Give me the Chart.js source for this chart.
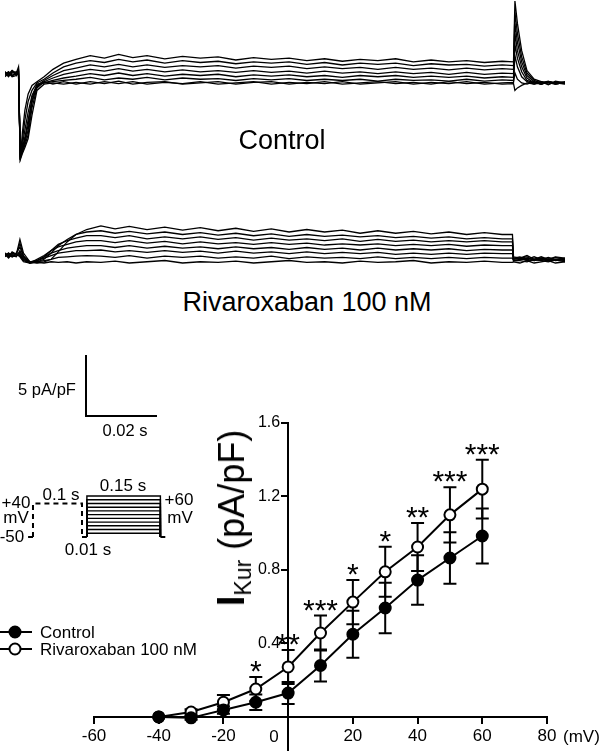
<!DOCTYPE html>
<html>
<head>
<meta charset="utf-8">
<script src="https://cdn.jsdelivr.net/npm/chart.js@4.4.1/dist/chart.umd.min.js"></script>
<style>
  html, body { margin: 0; padding: 0; background: #fff; }
  body { width: 600px; height: 752px; position: relative; overflow: hidden;
         font-family: "Liberation Sans", Arial, sans-serif; color: #000; }
  canvas { position: absolute; }
  .t { position: absolute; line-height: 1; white-space: nowrap; transform: translate(-50%, -50%); }
  .l { transform: translate(0, -50%); }
  .bar { position: absolute; background: #000; }
</style>
</head>
<body>

<canvas id="traceControl" width="560" height="170" style="left:5px;top:0px"></canvas>
<canvas id="traceRiva" width="560" height="80" style="left:5px;top:200px"></canvas>
<canvas id="protocol" width="160" height="52" style="left:20px;top:490px"></canvas>
<canvas id="iv" width="600" height="370" style="left:0px;top:400px"></canvas>

<div class="t" style="left:282px;top:140px;font-size:27px">Control</div>
<div class="t" style="left:307px;top:302px;font-size:27px">Rivaroxaban 100 nM</div>

<!-- scale bar -->
<div class="bar" style="left:85px;top:355px;width:2px;height:62px"></div>
<div class="bar" style="left:85px;top:415px;width:72px;height:2px"></div>
<div class="t" style="left:47px;top:389px;font-size:16.5px">5 pA/pF</div>
<div class="t" style="left:125px;top:430px;font-size:16.5px">0.02 s</div>

<!-- protocol labels -->
<div class="t" style="left:16px;top:502px;font-size:17px">+40</div>
<div class="t" style="left:16px;top:517px;font-size:17px">mV</div>
<div class="t" style="left:12px;top:536px;font-size:17px">-50</div>
<div class="t" style="left:61px;top:494px;font-size:17px">0.1 s</div>
<div class="t" style="left:123px;top:485px;font-size:17px">0.15 s</div>
<div class="t" style="left:179px;top:499px;font-size:17px">+60</div>
<div class="t" style="left:180px;top:517px;font-size:17px">mV</div>
<div class="t" style="left:88px;top:549px;font-size:17px">0.01 s</div>

<!-- IV plot texts -->
<div class="t" style="left:231px;top:518px;font-size:36px;transform:translate(-50%,-50%) rotate(-90deg)"><b style="font-size:38px">I</b><span style="font-size:23px;position:relative;top:7px">Kur</span> (pA/pF)</div>
<div class="t" style="left:274px;top:736px;font-size:17px">0</div>
<div class="t l" style="left:563px;top:736px;font-size:17px">(mV)</div>
<div class="t l" style="left:40px;top:632px;font-size:17px">Control</div>
<div class="t l" style="left:40px;top:649px;font-size:17px">Rivaroxaban 100 nM</div>

<script>
// ---- I-V data (mV, pA/pF) ----
const voltages = [-40, -30, -20, -10, 0, 10, 20, 30, 40, 50, 60];
const controlMean = [0, -0.005, 0.038, 0.08, 0.13, 0.28, 0.45, 0.593, 0.745, 0.865, 0.985];
const controlErr = [0, 0.01, 0.02, 0.042, 0.06, 0.087, 0.128, 0.137, 0.135, 0.14, 0.15];
const rivaMean = [0, 0.027, 0.08, 0.152, 0.272, 0.457, 0.625, 0.79, 0.925, 1.10, 1.24];
const rivaErr = [0, 0.015, 0.04, 0.066, 0.093, 0.095, 0.12, 0.136, 0.13, 0.15, 0.16];
const starLabels = ['', '', '', '*', '**', '***', '*', '*', '**', '***', '***'];
const xTicks = [-60, -40, -20, 0, 20, 40, 60, 80];
const yTicks = [0.4, 0.8, 1.2, 1.6];

// ---- current traces (time in ms, current in pA/pF) ----
const tControl = [0, 1, 2, 3.2, 3.8, 4.3, 4.9, 5.6, 6.5, 7.6, 9, 11, 13.5, 16.5,
  20, 24, 28, 32, 36, 40, 45, 50, 55, 60, 65, 70, 75, 80, 85, 90, 95, 100, 105, 110, 115, 120, 125, 130, 135, 140,
  143.2, 143.6, 144.3, 145.5, 147, 149, 151, 153, 155, 157.7];
const control1 = [0.9, 0.6, 1.0, 0.8, 1.3, -6.2, -4.0, -2.2, -0.9, -0.2, 0.1, 0.5, 1.1, 1.6,
  1.9, 2.2, 2.0, 2.3, 2.05, 2.2, 1.95, 2.15, 2.0, 2.1, 1.85, 2.05, 1.9, 2.0, 1.8, 1.95, 1.75, 1.9, 1.8, 1.95, 1.7, 1.85, 1.7, 1.8, 1.65, 1.75,
  1.7, 6.6, 4.8, 2.6, 1.0, 0.3, 0.1, -0.15, 0.15, 0.0];
const control2 = [0.7, 0.9, 0.6, 0.7, 1.1, -6.0, -4.6, -3.0, -1.5, -0.6, 0.0, 0.3, 0.8, 1.3,
  1.6, 1.8, 1.65, 1.9, 1.7, 1.85, 1.6, 1.8, 1.65, 1.75, 1.55, 1.7, 1.6, 1.7, 1.5, 1.65, 1.45, 1.6, 1.5, 1.6, 1.4, 1.55, 1.45, 1.5, 1.35, 1.45,
  1.4, 5.7, 4.0, 2.1, 0.8, 0.2, 0.0, 0.15, -0.1, 0.05];
const control3 = [0.5, 0.8, 0.6, 0.8, 1.0, -5.8, -5.0, -3.8, -2.4, -1.0, -0.2, 0.2, 0.6, 1.0,
  1.2, 1.45, 1.3, 1.5, 1.3, 1.45, 1.25, 1.4, 1.3, 1.4, 1.2, 1.35, 1.25, 1.35, 1.15, 1.3, 1.15, 1.25, 1.1, 1.25, 1.1, 1.2, 1.05, 1.2, 1.05, 1.15,
  1.1, 4.8, 3.3, 1.7, 0.6, 0.1, -0.1, 0.1, 0.0, 0.1];
const control4 = [0.8, 0.5, 0.9, 0.7, 0.9, -5.6, -5.2, -4.4, -3.0, -1.4, -0.3, 0.1, 0.4, 0.7,
  0.9, 1.1, 0.95, 1.15, 0.95, 1.1, 0.9, 1.05, 0.9, 1.0, 0.85, 1.0, 0.85, 0.95, 0.8, 0.95, 0.8, 0.9, 0.75, 0.9, 0.75, 0.85, 0.7, 0.85, 0.7, 0.8,
  0.75, 4.0, 2.6, 1.3, 0.4, 0.0, 0.1, -0.1, 0.05, 0.0];
const control5 = [0.6, 0.8, 0.5, 0.6, 0.8, -6.1, -5.4, -4.6, -3.4, -1.2, -0.1, 0.0, 0.2, 0.4,
  0.55, 0.75, 0.6, 0.8, 0.6, 0.75, 0.55, 0.7, 0.6, 0.7, 0.5, 0.65, 0.55, 0.65, 0.5, 0.6, 0.45, 0.6, 0.5, 0.6, 0.45, 0.55, 0.45, 0.55, 0.4, 0.5,
  0.45, 3.1, 2.0, 0.9, 0.2, 0.0, -0.1, 0.1, 0.0, -0.05];
const control6 = [0.9, 0.6, 0.8, 0.9, 0.7, -5.9, -5.5, -4.8, -3.8, -1.6, -0.2, 0.0, 0.1, 0.2,
  0.3, 0.45, 0.25, 0.4, 0.3, 0.45, 0.25, 0.4, 0.3, 0.35, 0.2, 0.35, 0.25, 0.35, 0.2, 0.3, 0.2, 0.3, 0.15, 0.3, 0.2, 0.25, 0.15, 0.3, 0.15, 0.25,
  0.2, 2.2, 1.3, 0.5, 0.1, -0.1, 0.0, 0.1, -0.1, 0.05];
const control7 = [0.7, 0.9, 0.6, 0.8, 0.9, -6.2, -5.7, -5.2, -4.5, -2.6, -0.6, -0.1, 0.0, -0.1,
  0.05, -0.1, 0.1, -0.05, 0.1, -0.1, 0.05, -0.05, 0.1, -0.1, 0.0, 0.1, -0.1, 0.05, -0.05, 0.1, -0.1, 0.0, 0.1, -0.05, 0.05, -0.1, 0.1, -0.05, 0.05, -0.1,
  -0.05, -0.6, -0.4, -0.2, 0.0, -0.1, 0.1, 0.0, -0.1, 0.05];
const control8 = [0.8, 0.7, 1.0, 0.6, 1.0, -6.0, -5.6, -5.0, -4.2, -2.0, -0.4, 0.1, -0.1, 0.1,
  -0.1, 0.1, -0.05, 0.15, -0.1, 0.05, 0.1, -0.1, 0.0, 0.1, -0.1, 0.05, 0.1, -0.1, 0.05, -0.05, 0.1, -0.1, 0.0, 0.1, -0.1, 0.05, -0.05, 0.1, -0.1, 0.0,
  0.05, 0.8, 0.3, 0.0, -0.1, 0.1, -0.1, 0.1, 0.0, -0.1];

const tRiva = [0, 1, 2, 3.2, 4.2, 5.2, 7, 9, 11, 13, 15, 17.5, 20, 23,
  27, 31, 35, 40, 45, 50, 55, 60, 65, 70, 75, 80, 85, 90, 95, 100, 105, 110, 115, 120, 125, 130, 135, 140,
  142.9, 143.2, 145, 147, 149, 151, 153, 155, 157.7];
const riva1 = [0.8, 0.5, 0.9, 0.7, 1.9, 0.8, 0.1, 0.0, 0.1, 0.3, 0.9, 1.7, 2.3, 2.7,
  3.0, 2.75, 2.95, 2.7, 2.9, 2.65, 2.85, 2.6, 2.8, 2.55, 2.75, 2.5, 2.7, 2.5, 2.65, 2.4, 2.6, 2.4, 2.55, 2.35, 2.5, 2.3, 2.45, 2.3,
  2.3, 0.5, 0.4, 0.6, 0.3, 0.5, 0.3, 0.5, 0.4];
const riva2 = [0.6, 0.8, 0.5, 0.7, 1.6, 0.6, 0.0, 0.1, 0.3, 0.8, 1.4, 1.9, 2.3, 2.5,
  2.6, 2.4, 2.55, 2.35, 2.5, 2.3, 2.45, 2.25, 2.4, 2.2, 2.35, 2.15, 2.3, 2.15, 2.25, 2.1, 2.2, 2.05, 2.15, 2.0, 2.1, 1.95, 2.05, 1.95,
  1.95, 0.4, 0.5, 0.3, 0.5, 0.3, 0.45, 0.3, 0.4];
const riva3 = [0.7, 0.4, 0.7, 0.8, 1.3, 0.5, 0.1, 0.2, 0.5, 1.0, 1.5, 1.8, 2.0, 2.2,
  2.2, 2.05, 2.2, 1.95, 2.1, 1.95, 2.1, 1.9, 2.05, 1.85, 2.0, 1.85, 1.95, 1.8, 1.95, 1.75, 1.9, 1.75, 1.85, 1.7, 1.8, 1.7, 1.8, 1.7,
  1.7, 0.3, 0.4, 0.5, 0.2, 0.4, 0.25, 0.45, 0.3];
const riva4 = [0.5, 0.7, 0.6, 0.5, 1.0, 0.4, 0.0, 0.3, 0.6, 1.0, 1.3, 1.5, 1.7, 1.8,
  1.8, 1.65, 1.8, 1.6, 1.75, 1.55, 1.7, 1.55, 1.65, 1.5, 1.65, 1.5, 1.6, 1.45, 1.55, 1.45, 1.55, 1.4, 1.5, 1.4, 1.5, 1.35, 1.45, 1.4,
  1.4, 0.4, 0.3, 0.4, 0.3, 0.2, 0.35, 0.2, 0.3];
const riva5 = [0.8, 0.6, 0.8, 0.7, 0.8, 0.3, 0.1, 0.2, 0.5, 0.8, 1.0, 1.2, 1.3, 1.4,
  1.4, 1.25, 1.4, 1.2, 1.35, 1.2, 1.3, 1.15, 1.3, 1.15, 1.25, 1.1, 1.25, 1.1, 1.2, 1.05, 1.2, 1.05, 1.15, 1.05, 1.15, 1.0, 1.1, 1.05,
  1.05, 0.3, 0.4, 0.2, 0.3, 0.4, 0.2, 0.3, 0.2];
const riva6 = [0.6, 0.7, 0.5, 0.6, 0.7, 0.2, 0.0, 0.2, 0.4, 0.6, 0.8, 0.9, 1.0, 1.0,
  1.05, 0.9, 1.0, 0.85, 1.0, 0.85, 0.95, 0.8, 0.95, 0.8, 0.9, 0.75, 0.9, 0.75, 0.85, 0.75, 0.85, 0.7, 0.8, 0.7, 0.8, 0.7, 0.8, 0.75,
  0.75, 0.2, 0.3, 0.3, 0.2, 0.3, 0.15, 0.3, 0.3];
const riva7 = [0.7, 0.5, 0.6, 0.7, 0.6, 0.2, 0.1, 0.1, 0.2, 0.3, 0.45, 0.5, 0.55, 0.6,
  0.55, 0.45, 0.6, 0.4, 0.55, 0.45, 0.55, 0.4, 0.5, 0.4, 0.55, 0.35, 0.5, 0.4, 0.45, 0.35, 0.5, 0.35, 0.45, 0.35, 0.45, 0.35, 0.45, 0.4,
  0.4, 0.2, 0.2, 0.1, 0.3, 0.2, 0.1, 0.25, 0.1];
const riva8 = [0.6, 0.8, 0.6, 0.7, 0.5, 0.1, 0.0, 0.05, 0.0, 0.1, 0.05, 0.1, 0.0, 0.1,
  0.05, 0.15, 0.0, 0.1, 0.2, 0.0, 0.1, 0.05, 0.15, 0.0, 0.1, 0.2, 0.05, 0.1, 0.0, 0.15, 0.05, 0.1, 0.2, 0.0, 0.1, 0.05, 0.15, 0.05,
  0.05, 0.1, 0.0, 0.2, 0.0, 0.1, 0.2, 0.0, 0.1];

// ---- voltage protocol (s, mV) ----
const holdingMv = -50;
const prepulseMv = 40;
const prepulseTime = [0, 0.1];
const testTime = [0.11, 0.26];
const holdTimes = [-0.01, 0.27];
const testLevels = [-40, -30, -20, -10, 0, 10, 20, 30, 40, 50, 60];

const FONT = '"Liberation Sans", Arial, sans-serif';
Chart.defaults.font.family = FONT;
Chart.defaults.color = '#000';
Chart.defaults.animation = false;

function hiddenScales(xmin, xmax, ymin, ymax) {
  return {
    x: { type: 'linear', display: false, min: xmin, max: xmax },
    y: { type: 'linear', display: false, min: ymin, max: ymax }
  };
}

function traceChart(id, times, traces, ymin, ymax) {
  new Chart(document.getElementById(id), {
    type: 'line',
    data: {
      datasets: traces.map(vals => ({
        data: times.map((t, i) => ({ x: t, y: vals[i] })),
        borderColor: '#000',
        borderWidth: 1.3,
        pointRadius: 0,
        tension: 0,
        clip: false
      }))
    },
    options: {
      responsive: false,
      layout: { padding: 0 },
      scales: hiddenScales(0, 157.7, ymin, ymax),
      plugins: { legend: { display: false }, tooltip: { enabled: false } }
    }
  });
}

// 0 pA/pF sits at y=83 (control) and y=263 (rivaroxaban), 12.4 px per pA/pF
traceChart('traceControl', tControl,
  [control1, control2, control3, control4, control5, control6, control7, control8], -7.02, 6.69);
traceChart('traceRiva', tRiva,
  [riva1, riva2, riva3, riva4, riva5, riva6, riva7, riva8], -1.37, 5.08);

// protocol drawing
const protoSets = [];
protoSets.push({
  data: [
    { x: holdTimes[0], y: holdingMv }, { x: prepulseTime[0], y: holdingMv }, { x: 0.05, y: null },
    { x: prepulseTime[1], y: holdingMv }, { x: testTime[0], y: holdingMv }, { x: 0.2, y: null },
    { x: testTime[1], y: holdingMv }, { x: holdTimes[1], y: holdingMv }
  ],
  borderWidth: 2
});
protoSets.push({
  data: [
    { x: prepulseTime[0], y: holdingMv }, { x: prepulseTime[0], y: prepulseMv },
    { x: prepulseTime[1], y: prepulseMv }, { x: prepulseTime[1], y: holdingMv }
  ],
  borderWidth: 2,
  borderDash: [5, 4]
});
testLevels.forEach(v => {
  protoSets.push({
    data: [
      { x: testTime[0], y: holdingMv }, { x: testTime[0], y: v },
      { x: testTime[1], y: v }, { x: testTime[1], y: holdingMv }
    ],
    borderWidth: 1.4
  });
});
protoSets.forEach(d => { d.borderColor = '#000'; d.pointRadius = 0; d.spanGaps = false; d.clip = false; });

new Chart(document.getElementById('protocol'), {
  type: 'line',
  data: { datasets: protoSets },
  options: {
    responsive: false,
    layout: { padding: 0 },
    scales: hiddenScales(-0.0265, 0.3, -63.4, 76.1),
    plugins: { legend: { display: false }, tooltip: { enabled: false } }
  }
});

// error bars, y tick labels, asterisks and legend symbols for the I-V plot
const ivExtras = {
  id: 'ivExtras',
  beforeDatasetsDraw(chart) {
    const { ctx, scales: { x, y } } = chart;
    ctx.save();
    ctx.strokeStyle = '#000';
    ctx.lineWidth = 2;
    [[controlMean, controlErr], [rivaMean, rivaErr]].forEach(([vals, errs]) => {
      vals.forEach((v, i) => {
        const e = errs[i];
        if (!e) return;
        const px = x.getPixelForValue(voltages[i]);
        const top = y.getPixelForValue(v + e);
        const bot = y.getPixelForValue(v - e);
        ctx.beginPath();
        ctx.moveTo(px, top); ctx.lineTo(px, bot);
        ctx.moveTo(px - 6.5, top); ctx.lineTo(px + 6.5, top);
        ctx.moveTo(px - 6.5, bot); ctx.lineTo(px + 6.5, bot);
        ctx.stroke();
      });
    });
    // y tick labels, left of the tick marks
    ctx.fillStyle = '#000';
    ctx.font = '16px ' + FONT;
    ctx.textAlign = 'right';
    ctx.textBaseline = 'middle';
    const axisX = x.getPixelForValue(0);
    yTicks.forEach(v => ctx.fillText(v.toFixed(1), axisX - 8, y.getPixelForValue(v)));
    ctx.restore();
  },
  afterDatasetsDraw(chart) {
    const { ctx, scales: { x, y } } = chart;
    ctx.save();
    ctx.fillStyle = '#000';
    ctx.font = '30px ' + FONT;
    ctx.textAlign = 'center';
    ctx.textBaseline = 'alphabetic';
    starLabels.forEach((s, i) => {
      if (!s) return;
      const px = x.getPixelForValue(voltages[i]);
      const top = y.getPixelForValue(rivaMean[i] + rivaErr[i]);
      ctx.fillText(s, px, top + 4);
    });
    // legend symbols
    [[232, '#000'], [249, '#fff']].forEach(([ly, fill]) => {
      ctx.strokeStyle = '#000';
      ctx.lineWidth = 2;
      ctx.beginPath(); ctx.moveTo(0, ly); ctx.lineTo(32, ly); ctx.stroke();
      ctx.beginPath(); ctx.arc(15, ly, 5.5, 0, Math.PI * 2);
      ctx.fillStyle = fill; ctx.fill(); ctx.stroke();
    });
    ctx.restore();
  }
};

new Chart(document.getElementById('iv'), {
  type: 'line',
  data: {
    labels: voltages,
    datasets: [
      {
        label: 'Control',
        data: voltages.map((v, i) => ({ x: v, y: controlMean[i] })),
        borderColor: '#000', borderWidth: 2,
        pointRadius: 5.5, pointBackgroundColor: '#000', pointBorderColor: '#000', pointBorderWidth: 2
      },
      {
        label: 'Rivaroxaban 100 nM',
        data: voltages.map((v, i) => ({ x: v, y: rivaMean[i] })),
        borderColor: '#000', borderWidth: 2,
        pointRadius: 5.5, pointBackgroundColor: '#fff', pointBorderColor: '#000', pointBorderWidth: 2
      }
    ]
  },
  options: {
    responsive: false,
    // chart area: x 94..547, y 423..750 (page coords)
    layout: { padding: { left: 94, right: 53, top: 23, bottom: 20 } },
    scales: {
      x: {
        type: 'linear', min: -60, max: 80,
        position: { y: 0 },
        afterBuildTicks: s => { s.ticks = xTicks.map(v => ({ value: v })); },
        ticks: { autoSkip: false, maxRotation: 0, padding: 3, font: { size: 17 },
                 callback: v => (v === 0 ? '' : String(v)) },
        grid: { drawOnChartArea: false, color: '#000', lineWidth: 2, tickLength: 6 },
        border: { color: '#000', width: 2 }
      },
      y: {
        type: 'linear', min: -0.18, max: 1.6,
        position: { x: 0 },
        afterBuildTicks: s => { s.ticks = yTicks.map(v => ({ value: v })); },
        ticks: { display: false },
        grid: { drawOnChartArea: false, color: '#000', lineWidth: 2, tickLength: 6 },
        border: { color: '#000', width: 2 }
      }
    },
    plugins: { legend: { display: false }, tooltip: { enabled: false } }
  },
  plugins: [ivExtras]
});
</script>
</body>
</html>
